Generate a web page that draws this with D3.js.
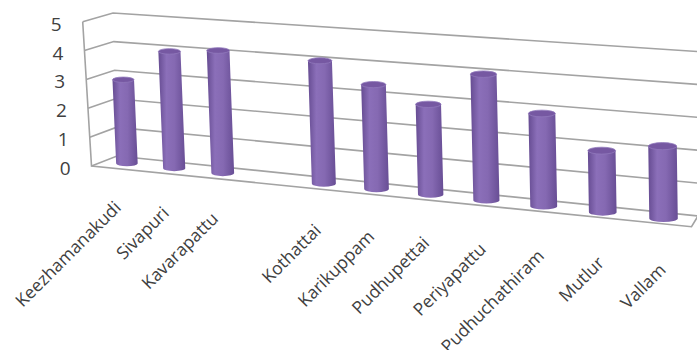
<!DOCTYPE html>
<html>
<head>
<meta charset="utf-8">
<script src="https://cdn.jsdelivr.net/npm/d3@7"></script>
<style>
body {margin: 0; background: #fff;}
text {font-family: 'Open Sans', sans-serif;}
</style>
</head>
<body>
<div class="chart"></div>
<script>
var villages = ['Keezhamanakudi', 'Sivapuri', 'Kavarapattu', '', 'Kothattai', 'Karikuppam',
  'Pudhupettai', 'Periyapattu', 'Pudhuchathiram', 'Mutlur', 'Vallam']
var counts = [2.9, 4.0, 4.15, null, 4.05, 3.4, 2.9, 4.0, 2.9, 1.9, 2.2]
var yTicks = [0, 1, 2, 3, 4, 5]

var width = 697, height = 350

var svg = d3.select('.chart').append('svg')
  .attr('width', width).attr('height', height)

// screen corners of the 3d box: l/r, b(ottom)/t(op), b(ack)/f(ront)
var box = {
  lbb: [117, 156], ltb: [113, 13], rbb: [698, 216], rtb: [698, 51.5],
  lbf: [91.5, 166], ltf: [82.7, 21.7], rbf: [691.5, 226.7], rtf: [687.5, 60.7]
}
var persp = 1.166

function bend(u){ return u/(u + persp*(1 - u)) }
function lerp(a, b, t){ return [a[0] + (b[0] - a[0])*t, a[1] + (b[1] - a[1])*t] }

// u: across (0..1), v: height (0..1), w: depth (0 back, 1 front)
function project(u, v, w){
  var s = bend(u)
  var bb = lerp(box.lbb, box.rbb, s), tb = lerp(box.ltb, box.rtb, s)
  var bf = lerp(box.lbf, box.rbf, s), tf = lerp(box.ltf, box.rtf, s)
  return lerp(lerp(bb, tb, v), lerp(bf, tf, v), w)
}

var x = d3.scaleBand().domain(d3.range(villages.length)).range([0, 1])
var y = d3.scaleLinear().domain([0, 5]).range([0, 1])
var line = d3.line()

// walls + floor
var grid = svg.append('g')
  .attr('fill', 'none').attr('stroke', '#a3a3a3').attr('stroke-width', 1.6)

grid.selectAll('path.grid').data(yTicks).join('path')
  .attr('d', t => line([project(0, y(t), 1), project(0, y(t), 0), project(1, y(t), 0)]))

grid.append('path')
  .attr('d', line([project(0, 1, 1), project(0, 0, 1), project(1, 0, 1), project(1, 0, 0)]))

svg.append('g').selectAll('text').data(yTicks).join('text')
  .each(function(t){
    var p = project(0, y(t), 1)
    d3.select(this).attr('x', p[0] - 21).attr('y', p[1] + 2)
  })
  .attr('text-anchor', 'end').attr('dominant-baseline', 'central')
  .attr('font-size', 19).attr('fill', '#404040')
  .text(d => d)

// bars
var defs = svg.append('defs')
var grad = defs.append('linearGradient').attr('id', 'body')
grad.selectAll('stop').data([
  [0, '#664c92'], [0.3, '#8b6fb9'], [0.6, '#8569b2'], [1, '#684e95']
]).join('stop').attr('offset', d => d[0]).attr('stop-color', d => d[1])

var depth = 0.52, radius = 0.021
var rows = villages.map((d, i) => ({name: d, value: counts[i], i}))

svg.append('g').selectAll('g').data(rows.filter(d => d.value != null)).join('g')
  .each(function(d){
    var u = x(d.i) + x.bandwidth()/2
    var b = project(u, 0, depth), t = project(u, y(d.value), depth)
    var rx = (project(u + radius, 0, depth)[0] - project(u - radius, 0, depth)[0])/2
    var ry = rx*0.25
    var sel = d3.select(this)
    sel.append('path')
      .attr('d', 'M' + (t[0] - rx) + ',' + t[1] + 'L' + (b[0] - rx) + ',' + b[1] +
        'A' + rx + ',' + ry + ' 0 0 0 ' + (b[0] + rx) + ',' + b[1] +
        'L' + (t[0] + rx) + ',' + t[1] + 'Z')
      .attr('fill', 'url(#body)')
    sel.append('ellipse')
      .attr('cx', t[0]).attr('cy', t[1]).attr('rx', rx).attr('ry', ry)
      .attr('fill', '#7658a2').attr('stroke', '#9078bb').attr('stroke-width', 0.8)
  })

// category labels
svg.append('g').selectAll('text').data(rows).join('text')
  .attr('transform', d => {
    var u = x(d.i) + x.bandwidth()/2
    var p = project(u, 0, 1)
    return 'translate(' + (p[0] + 7) + ',' + (p[1] + 40 + 8*bend(u)) + ') rotate(-45)'
  })
  .attr('text-anchor', 'end').attr('font-size', 17.5).attr('fill', '#404040')
  .text(d => d.name)
</script>
</body>
</html>
